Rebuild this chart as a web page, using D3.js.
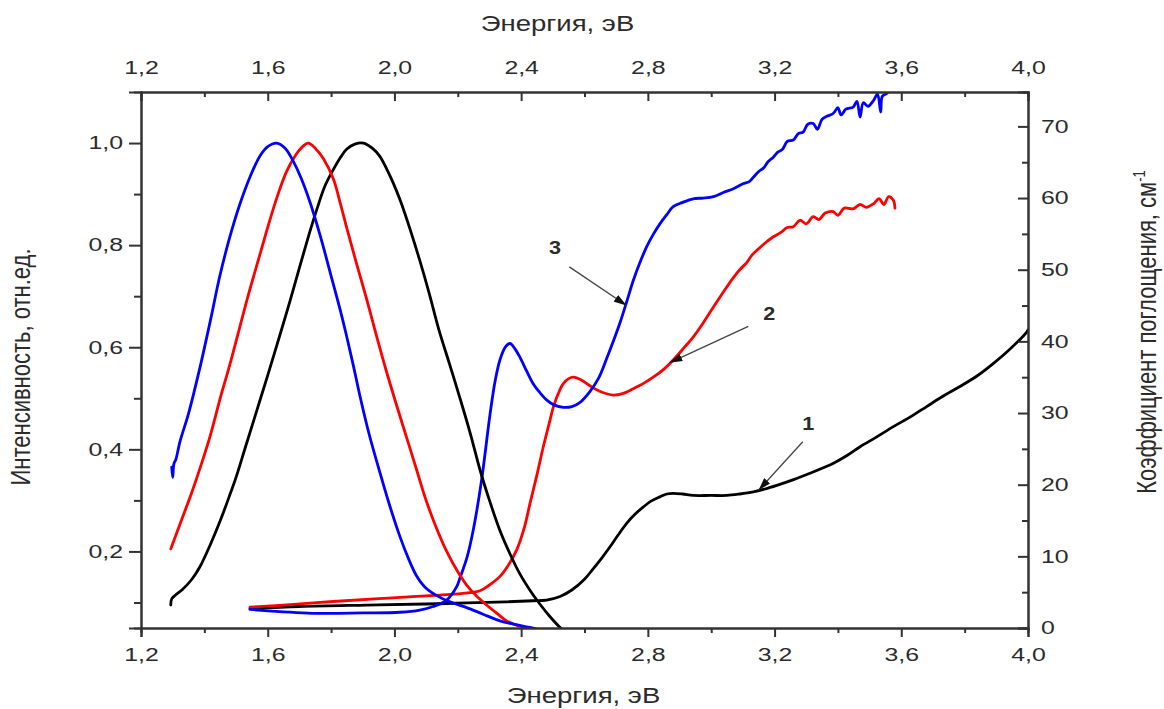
<!DOCTYPE html>
<html>
<head>
<meta charset="utf-8">
<script src="https://cdn.jsdelivr.net/npm/d3@7"></script>
<style>
  html, body { margin: 0; padding: 0; background: #fff; }
  svg { display: block; }
  text { font-family: "Liberation Sans", Arial, sans-serif; fill: #2b2b2b; }
</style>
</head>
<body>
<svg id="chart" width="1164" height="709"></svg>
<script>
// ---- Photoluminescence spectra (left axis, normalised intensity) ----
const plEnergy1 = [1.294,1.297,1.31,1.33,1.36,1.386,1.42,1.45,1.48,1.50,1.53,1.565,1.60,1.639,1.67,1.702,1.73,1.755,1.78,1.807,1.83,1.849,1.875,1.902,1.93,1.954,1.975,1.996,2.02,2.05,2.08,2.11,2.14,2.175,2.207,2.24,2.27,2.30,2.333,2.365,2.396,2.43,2.459,2.49,2.523,2.535];
const plValue1  = [0.095,0.107,0.115,0.125,0.145,0.17,0.215,0.26,0.31,0.345,0.405,0.475,0.545,0.625,0.69,0.76,0.82,0.87,0.915,0.948,0.972,0.988,0.998,1.0,0.99,0.974,0.95,0.922,0.885,0.83,0.77,0.705,0.635,0.565,0.50,0.43,0.36,0.30,0.241,0.195,0.156,0.122,0.097,0.073,0.051,0.045];

const plEnergy2 = [1.294,1.30,1.33,1.36,1.39,1.42,1.45,1.48,1.51,1.54,1.57,1.60,1.63,1.66,1.69,1.71,1.728,1.75,1.775,1.807,1.83,1.849,1.88,1.912,1.94,1.976,2.01,2.04,2.07,2.10,2.13,2.165,2.2,2.228,2.26,2.291,2.325,2.354,2.38,2.407,2.42];
const plValue2  = [0.205,0.215,0.265,0.315,0.37,0.43,0.50,0.565,0.635,0.705,0.77,0.835,0.895,0.945,0.978,0.993,1.0,0.99,0.97,0.93,0.88,0.835,0.765,0.695,0.63,0.55,0.48,0.42,0.36,0.30,0.25,0.20,0.16,0.134,0.112,0.095,0.078,0.064,0.057,0.051,0.048];

const plEnergy3 = [1.297,1.300,1.304,1.310,1.323,1.35,1.386,1.42,1.449,1.48,1.512,1.545,1.576,1.60,1.628,1.655,1.68,1.705,1.733,1.765,1.80,1.828,1.849,1.87,1.891,1.92,1.954,1.985,2.018,2.045,2.07,2.10,2.144,2.19,2.228,2.28,2.333,2.38,2.428,2.45];
const plValue3  = [0.365,0.345,0.372,0.38,0.415,0.47,0.56,0.655,0.74,0.815,0.88,0.935,0.975,0.993,1.0,0.99,0.965,0.932,0.885,0.82,0.74,0.675,0.622,0.565,0.505,0.43,0.355,0.29,0.228,0.185,0.152,0.128,0.11,0.098,0.09,0.077,0.064,0.057,0.051,0.048];

// ---- Absorption coefficient spectra (right axis, cm^-1) ----
const absEnergy1 = [1.544,1.70,1.912,2.10,2.228,2.35,2.438,2.48,2.523,2.56,2.60,2.628,2.655,2.68,2.705,2.733,2.76,2.786,2.81,2.838,2.86,2.88,2.91,2.943,3.00,3.049,3.09,3.133,3.17,3.207,3.26,3.312,3.35,3.386,3.43,3.47,3.52,3.575,3.63,3.68,3.73,3.785,3.84,3.89,3.94,3.996,4.0];
const absValue1  = [2.7,3.0,3.2,3.35,3.5,3.65,3.8,3.9,4.4,5.3,6.8,8.3,9.8,11.3,12.9,14.6,15.9,16.9,17.7,18.3,18.7,18.8,18.7,18.5,18.5,18.5,18.7,19.0,19.4,19.9,20.7,21.6,22.3,23.0,24.1,25.3,26.6,28.1,29.5,30.9,32.3,33.7,35.2,36.9,38.8,41.3,41.6];

const absEnergy2 = [1.544,1.65,1.807,1.95,2.07,2.144,2.21,2.27,2.30,2.333,2.36,2.386,2.41,2.428,2.45,2.47,2.49,2.502,2.52,2.533,2.55,2.565,2.59,2.617,2.65,2.691,2.72,2.754,2.785,2.817,2.85,2.88,2.91,2.943,2.975,3.007,3.04,3.07,3.09,3.112,3.13,3.154,3.175,3.196,3.22,3.24,3.259,3.28,3.30,3.322,3.34,3.36,3.385,3.40,3.42,3.448,3.47,3.49,3.512,3.53,3.545,3.56,3.575,3.58];
const absValue2  = [2.9,3.2,3.7,4.1,4.4,4.6,4.8,5.2,6.0,7.2,8.8,10.9,14.0,17.4,21.4,25.3,28.8,30.9,33.0,34.1,34.8,35.0,34.6,33.8,33.0,32.5,32.7,33.4,34.1,35.0,36.1,37.4,38.9,40.6,42.6,44.8,47.0,48.9,50.0,51.0,52.1,53.1,53.9,54.6,55.2,55.9,56.0,56.9,56.4,57.4,57.0,57.9,58.1,57.6,58.6,58.5,59.1,58.7,59.2,59.9,59.1,60.2,59.7,58.6];

const absEnergy3 = [1.544,1.60,1.755,1.90,2.018,2.08,2.122,2.165,2.197,2.207,2.23,2.249,2.275,2.302,2.318,2.333,2.35,2.365,2.38,2.396,2.418,2.438,2.46,2.481,2.505,2.533,2.56,2.586,2.617,2.645,2.67,2.69,2.712,2.733,2.754,2.775,2.796,2.818,2.838,2.86,2.88,2.91,2.943,2.975,3.007,3.04,3.07,3.10,3.12,3.133,3.15,3.165,3.18,3.196,3.21,3.225,3.24,3.259,3.275,3.29,3.305,3.322,3.335,3.35,3.365,3.385,3.40,3.41,3.425,3.448,3.46,3.47,3.48,3.495,3.512,3.525,3.535,3.54,3.554,3.565,3.58];
const absValue3  = [2.6,2.4,2.05,2.1,2.2,2.5,3.0,3.9,5.8,7.0,10.0,13.7,20.6,29.9,34.5,37.4,39.2,39.7,39.0,37.8,35.8,34.1,32.8,31.8,31.1,30.8,30.9,31.5,33.0,34.9,37.6,39.9,42.6,45.5,48.5,51.0,53.2,55.0,56.4,57.7,58.8,59.4,59.9,60.0,60.2,60.8,61.3,62.0,62.3,62.9,63.7,64.2,65.1,65.7,66.4,66.8,67.9,68.1,69.0,69.2,70.3,70.4,69.6,71.0,71.4,71.8,72.6,71.6,72.4,72.7,73.5,71.3,73.3,72.8,73.6,74.5,72.0,74.2,74.6,75.2,75.6];

// ---- Axis ticks ----
const energyMajor = [1.2,1.6,2.0,2.4,2.8,3.2,3.6,4.0];
const energyMinor = [1.4,1.8,2.2,2.6,3.0,3.4,3.8];
const intensityMajor = [0.2,0.4,0.6,0.8,1.0];
const intensityMinor = [0.1,0.3,0.5,0.7,0.9];
const absMajor = [0,10,20,30,40,50,60,70];
const absMinor = [5,15,25,35,45,55,65];

// ---- Curve labels: [number, label energy, label value, arrow tail energy, tail value, arrow tip energy, tip value] ----
const curveLabels = [
  ["1", 3.306, 28.5, 3.289, 26.0, 3.149, 19.2],
  ["2", 3.183, 43.9, 3.117, 42.1, 2.868, 37.0],
  ["3", 2.507, 53.1, 2.552, 50.4, 2.733, 45.0]
];

const colors = { 1: "#000000", 2: "#ff0000", 3: "#0000ff" };

const svg = d3.select("#chart");
const plot = { left: 141, right: 1028, top: 92, bottom: 628 };

const x = d3.scaleLinear().domain([1.2, 4.0]).range([plot.left, plot.right]);
const yL = d3.scaleLinear().domain([0.05, 1.1]).range([plot.bottom, plot.top]);
const yR = d3.scaleLinear().domain([0, 74.8]).range([plot.bottom, plot.top]);

const ru = d3.formatLocale({ decimal: ",", thousands: " ", grouping: [3], currency: ["", ""] });
const f1 = ru.format(".1f");

const SX_TICK = 1.38;   // wide glyphs of the tick labels
const SX_TITLE = 1.25;

const defs = svg.append("defs");
defs.append("clipPath").attr("id", "plotClip")
  .append("rect")
  .attr("x", plot.left).attr("y", plot.top)
  .attr("width", plot.right - plot.left).attr("height", plot.bottom - plot.top);

// Arrowhead marker for the curve labels
defs.append("marker")
  .attr("id", "arrowHead")
  .attr("viewBox", "0 0 13 8")
  .attr("refX", 13).attr("refY", 4)
  .attr("markerWidth", 13).attr("markerHeight", 8)
  .attr("markerUnits", "userSpaceOnUse")
  .attr("orient", "auto")
  .append("path").attr("d", "M0,0 L13,4 L0,8 Z").attr("fill", "#111");

// ---- Curves ----
const gCurves = svg.append("g").attr("clip-path", "url(#plotClip)");

function drawSeries(es, vs, yScale, color) {
  const pts = es.map((e, i) => [e, vs[i]]);
  const line = d3.line()
    .x(d => x(d[0]))
    .y(d => yScale(d[1]))
    .curve(d3.curveCatmullRom.alpha(0.5));
  gCurves.append("path")
    .datum(pts)
    .attr("d", line)
    .attr("fill", "none")
    .attr("stroke", color)
    .attr("stroke-width", 2.8)
    .attr("stroke-linejoin", "round")
    .attr("stroke-linecap", "round");
}

drawSeries(absEnergy1, absValue1, yR, colors[1]);
drawSeries(absEnergy2, absValue2, yR, colors[2]);
drawSeries(absEnergy3, absValue3, yR, colors[3]);
drawSeries(plEnergy1, plValue1, yL, colors[1]);
drawSeries(plEnergy2, plValue2, yL, colors[2]);
drawSeries(plEnergy3, plValue3, yL, colors[3]);

// ---- Axes ----
function styleAxis(g) {
  g.select(".domain").attr("stroke", "#333").attr("stroke-width", 2);
  g.selectAll(".tick line").attr("stroke", "#333").attr("stroke-width", 2);
  g.selectAll(".tick text").attr("font-size", 18).attr("fill", "#2b2b2b")
    .style("font-family", '"Liberation Sans", Arial, sans-serif');
}

// bottom
const gBottomMinor = svg.append("g").attr("transform", `translate(0,${plot.bottom})`)
  .call(d3.axisBottom(x).tickValues(energyMinor).tickSize(5).tickFormat(""));
styleAxis(gBottomMinor);
const gBottom = svg.append("g").attr("transform", `translate(0,${plot.bottom})`)
  .call(d3.axisBottom(x).tickValues(energyMajor).tickSize(9).tickPadding(11).tickFormat(f1));
styleAxis(gBottom);
gBottom.selectAll(".tick text").attr("transform", `scale(${SX_TICK},1)`);

// top (ticks pointing inward)
const gTopMinor = svg.append("g").attr("transform", `translate(0,${plot.top})`)
  .call(d3.axisTop(x).tickValues(energyMinor).tickSize(-5).tickFormat(""));
styleAxis(gTopMinor);
const gTop = svg.append("g").attr("transform", `translate(0,${plot.top})`)
  .call(d3.axisTop(x).tickValues(energyMajor).tickSize(-9).tickPadding(18).tickFormat(f1));
styleAxis(gTop);
gTop.selectAll(".tick text").attr("transform", `scale(${SX_TICK},1)`);

// left
const gLeftMinor = svg.append("g").attr("transform", `translate(${plot.left},0)`)
  .call(d3.axisLeft(yL).tickValues(intensityMinor).tickSize(7).tickFormat(""));
styleAxis(gLeftMinor);
const gLeft = svg.append("g").attr("transform", `translate(${plot.left},0)`)
  .call(d3.axisLeft(yL).tickValues(intensityMajor).tickSize(12).tickPadding(6).tickFormat(f1));
styleAxis(gLeft);
gLeft.selectAll(".tick text").each(function () {
  const t = d3.select(this);
  const off = +t.attr("x");
  t.attr("x", 0).attr("transform", `translate(${off},0) scale(${SX_TICK},1)`);
});

// right (ticks pointing inward)
const gRightMinor = svg.append("g").attr("transform", `translate(${plot.right},0)`)
  .call(d3.axisRight(yR).tickValues(absMinor).tickSize(-6).tickFormat(""));
styleAxis(gRightMinor);
const gRight = svg.append("g").attr("transform", `translate(${plot.right},0)`)
  .call(d3.axisRight(yR).tickValues(absMajor).tickSize(-10).tickPadding(13).tickFormat(d3.format("d")));
styleAxis(gRight);
gRight.selectAll(".tick text").each(function () {
  const t = d3.select(this);
  const off = +t.attr("x");
  t.attr("x", 0).attr("transform", `translate(${off},0) scale(${SX_TICK},1)`);
});

// ---- Axis titles ----
svg.append("text")
  .attr("transform", `translate(${(plot.left + plot.right) / 2 - 27},31) scale(${SX_TITLE},1)`)
  .attr("text-anchor", "middle").attr("font-size", 22)
  .text("Энергия, эВ");

svg.append("text")
  .attr("transform", `translate(${(plot.left + plot.right) / 2 - 1},703) scale(${SX_TITLE},1)`)
  .attr("text-anchor", "middle").attr("font-size", 22)
  .text("Энергия, эВ");

svg.append("text")
  .attr("transform", `translate(30,367) scale(${SX_TITLE},1) rotate(-90)`)
  .attr("text-anchor", "middle").attr("font-size", 22)
  .text("Интенсивность, отн.ед.");

const rTitle = svg.append("text")
  .attr("transform", `translate(1156,332) scale(${SX_TITLE},1) rotate(-90)`)
  .attr("text-anchor", "middle").attr("font-size", 22);
rTitle.append("tspan").text("Коэффициент поглощения, см");
rTitle.append("tspan").attr("dy", -9).attr("font-size", 13).text("-1");

// ---- Curve number labels with arrows ----
const gLab = svg.append("g");
curveLabels.forEach(([name, le, lv, te, tv, he, hv]) => {
  gLab.append("line")
    .attr("x1", x(te)).attr("y1", yR(tv))
    .attr("x2", x(he)).attr("y2", yR(hv))
    .attr("stroke", "#444").attr("stroke-width", 1.3)
    .attr("marker-end", "url(#arrowHead)");
  gLab.append("text")
    .attr("transform", `translate(${x(le)},${yR(lv)}) scale(1.2,1)`)
    .attr("text-anchor", "middle").attr("dy", "0.35em")
    .attr("font-size", 18).attr("font-weight", "bold").attr("fill", "#222")
    .text(name);
});
</script>
</body>
</html>
